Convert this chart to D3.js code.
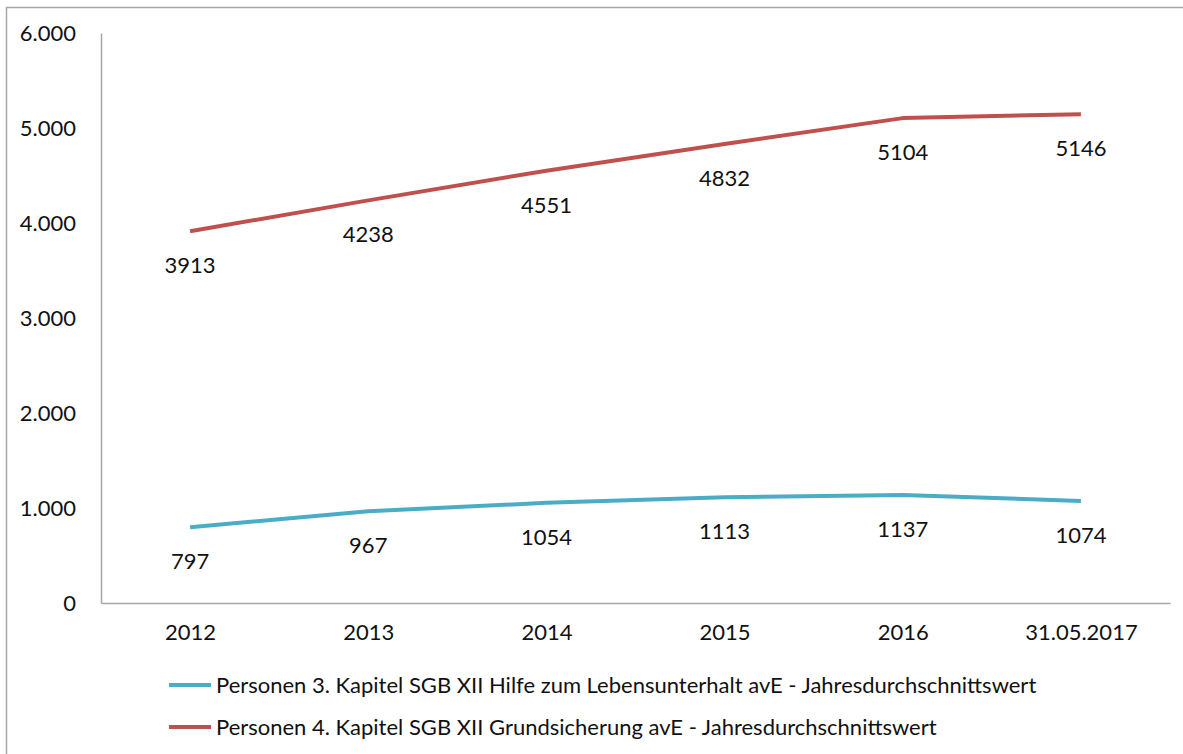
<!DOCTYPE html>
<html>
<head>
<meta charset="utf-8">
<script src="https://cdn.jsdelivr.net/npm/d3@7"></script>
<style>
  body { margin: 0; background: #fff; }
  text { font-family: Lato, "Open Sans", sans-serif; fill: #111; }
</style>
</head>
<body>
<div id="chart"></div>
<script>
// data
var categories = ["2012", "2013", "2014", "2015", "2016", "31.05.2017"];
var kapitel3 = [797, 967, 1054, 1113, 1137, 1074];
var kapitel4 = [3913, 4238, 4551, 4832, 5104, 5146];
var yTicks = [0, 1000, 2000, 3000, 4000, 5000, 6000];
var seriesNames = [
  "Personen 3. Kapitel SGB XII Hilfe zum Lebensunterhalt avE - Jahresdurchschnittswert",
  "Personen 4. Kapitel SGB XII Grundsicherung avE - Jahresdurchschnittswert"
];
var colors = ["#4bacc6", "#c0504d"];

var svgWidth = 1183;
var svgHeight = 754;

var margin = { top: 33, right: 13, bottom: 151, left: 101 };
var width = svgWidth - margin.left - margin.right;
var height = svgHeight - margin.top - margin.bottom;

var svg = d3.select("#chart")
  .append("svg")
  .attr("width", svgWidth)
  .attr("height", svgHeight);

// outer frame
svg.append("rect")
  .attr("x", 6.5)
  .attr("y", 7.5)
  .attr("width", svgWidth + 10)
  .attr("height", svgHeight + 10)
  .attr("fill", "none")
  .attr("stroke", "#a6a6a6")
  .attr("stroke-width", 1.5);

var chartGroup = svg.append("g")
  .attr("transform", `translate(${margin.left}, ${margin.top})`);

var xScale = d3.scalePoint()
  .domain(categories)
  .range([0, width])
  .padding(0.5);

var yScale = d3.scaleLinear()
  .domain([0, 6000])
  .range([height, 0]);

var fmt = d3.formatLocale({ decimal: ",", thousands: ".", grouping: [3], currency: ["", " €"] }).format(",d");

// axes
var leftAxis = d3.axisLeft(yScale)
  .tickValues(yTicks)
  .tickSize(0)
  .tickPadding(25)
  .tickFormat(fmt);

var bottomAxis = d3.axisBottom(xScale)
  .tickSize(0)
  .tickPadding(21);

var yAxis = chartGroup.append("g").call(leftAxis);
var xAxis = chartGroup.append("g")
  .attr("transform", `translate(0, ${height})`)
  .call(bottomAxis);

[yAxis, xAxis].forEach(function(ax) {
  ax.select(".domain").attr("stroke", "#a6a6a6").attr("stroke-width", 1.5);
  ax.selectAll("text").attr("font-size", "22px").attr("fill", "#111")
    .style("font-family", "Lato, 'Open Sans', sans-serif");
});
yAxis.selectAll("text").attr("dy", "0.36em");
xAxis.selectAll("text").attr("dy", "0.72em");

// lines
var allSeries = [kapitel3, kapitel4];
var line = d3.line()
  .x((d, i) => xScale(categories[i]))
  .y(d => yScale(d));

allSeries.forEach(function(vals, s) {
  chartGroup.append("path")
    .datum(vals)
    .attr("fill", "none")
    .attr("stroke", colors[s])
    .attr("stroke-width", 4)
    .attr("stroke-linejoin", "round")
    .attr("d", line);

  chartGroup.selectAll(".lbl" + s)
    .data(vals)
    .enter()
    .append("text")
    .attr("class", "lbl" + s)
    .attr("x", (d, i) => xScale(categories[i]))
    .attr("y", d => yScale(d) + 34)
    .attr("dy", "0.36em")
    .attr("text-anchor", "middle")
    .attr("font-size", "22px")
    .text(d => d);
});

// legend
var legend = svg.append("g");
seriesNames.forEach(function(name, s) {
  var ly = 685 + s * 42;
  legend.append("line")
    .attr("x1", 169).attr("x2", 211)
    .attr("y1", ly).attr("y2", ly)
    .attr("stroke", colors[s])
    .attr("stroke-width", 4);
  legend.append("text")
    .attr("x", 216)
    .attr("y", ly)
    .attr("dy", "0.36em")
    .attr("font-size", "22px")
    .text(name);
});
</script>
</body>
</html>
